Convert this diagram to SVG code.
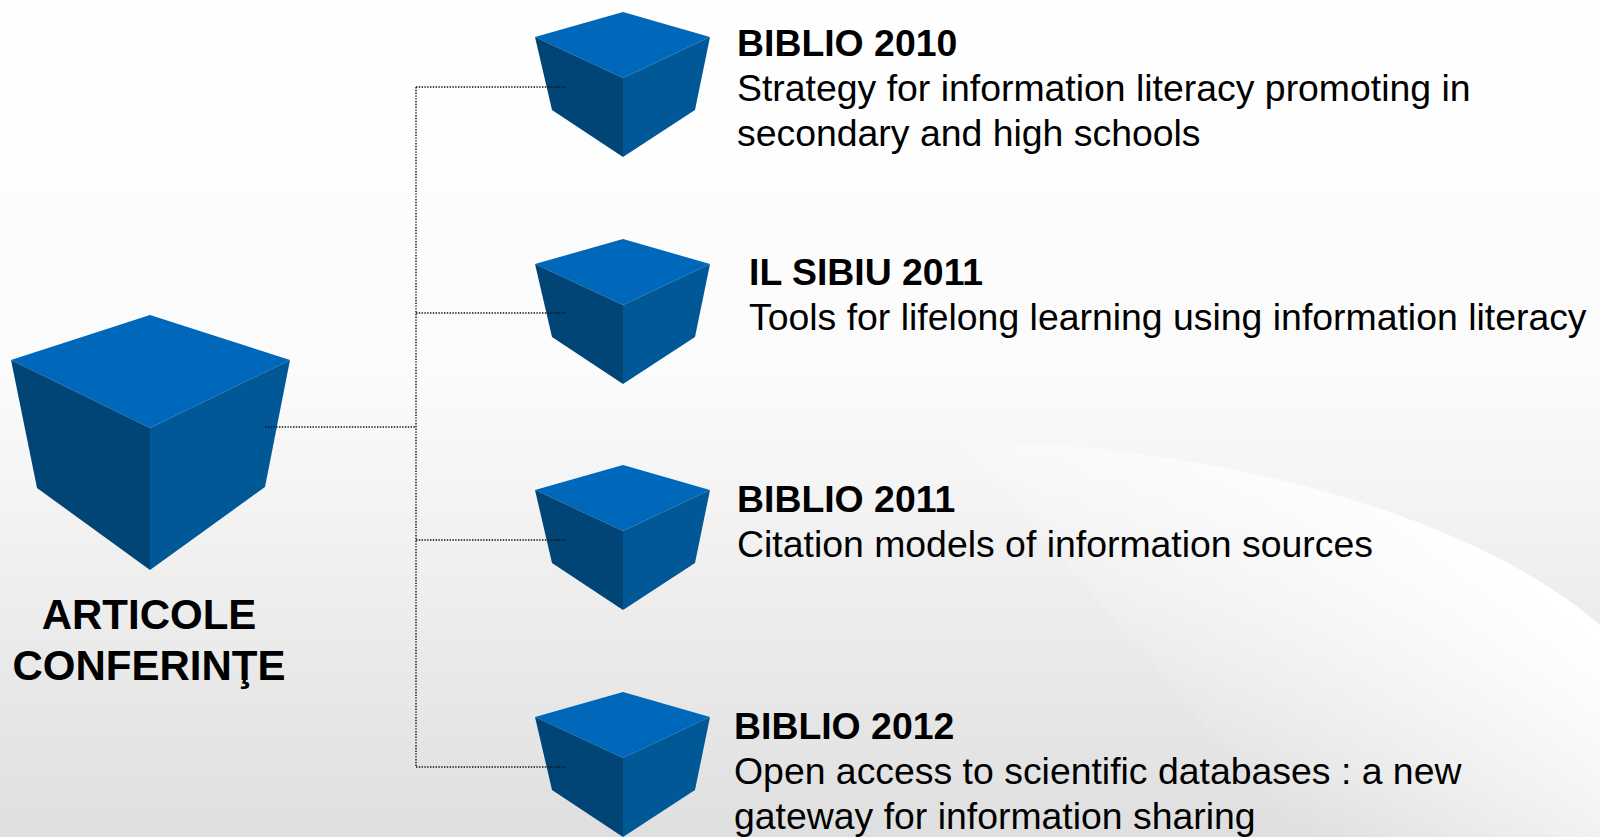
<svg xmlns="http://www.w3.org/2000/svg" width="1600" height="837" viewBox="0 0 1600 837">
<style>
.top{fill:#0467ba}
.lf{fill:#034574}
.rt{fill:#045897}
.t{font-family:"Liberation Sans",Arial,sans-serif;font-size:37.4px;fill:#000}
.b{font-weight:bold}
.big{font-family:"Liberation Sans",Arial,sans-serif;font-size:42px;font-weight:bold;fill:#000;text-anchor:middle}
.conn{fill:none;stroke:#111;stroke-width:1.4;stroke-dasharray:1.4 1.4}
</style>
<defs>
<linearGradient id="bg" x1="0" y1="0" x2="0" y2="1">
<stop offset="0" stop-color="#ffffff"/>
<stop offset="0.45" stop-color="#fbfbfb"/>
<stop offset="1" stop-color="#dfdfdf"/>
</linearGradient>
<linearGradient id="sw" gradientUnits="userSpaceOnUse" x1="1480" y1="540" x2="1250" y2="800">
<stop offset="0" stop-color="#ffffff" stop-opacity="1"/>
<stop offset="1" stop-color="#ffffff" stop-opacity="0"/>
</linearGradient>
<filter id="soft" x="-5%" y="-5%" width="110%" height="110%">
<feGaussianBlur stdDeviation="0.7"/>
</filter>
<g id="cube">
<polygon class="top" points="0,0 -88,25 0,66 87,25"/>
<polygon class="lf" points="-88,25 0,66 0,145 -71,98"/>
<polygon class="rt" points="87,25 0,66 0,145 72,98"/>
</g>
</defs>
<rect width="1600" height="837" fill="url(#bg)"/>
<path d="M960 440 C1230 445 1480 520 1600 625 L1600 837 L1300 837 Z" fill="url(#sw)"/>

<g id="node-root">
<g filter="url(#soft)">
<polygon class="top" points="150,315 11,360 150,428 290,360"/>
<polygon class="lf" points="11,360 150,428 150,570 37,488"/>
<polygon class="rt" points="290,360 150,428 150,570 265,487"/>
</g>
<text class="big" x="149" y="629">ARTICOLE</text>
<text class="big" x="149" y="680">CONFERINŢE</text>
</g>

<g id="node-biblio2010">
<use href="#cube" x="623" y="12" filter="url(#soft)"/>
<text class="t b" x="737" y="56">BIBLIO 2010</text>
<text class="t" x="737" y="101">Strategy for information literacy promoting in</text>
<text class="t" x="737" y="146">secondary and high schools</text>
</g>

<g id="node-ilsibiu2011">
<use href="#cube" x="623" y="239" filter="url(#soft)"/>
<text class="t b" x="749" y="285">IL SIBIU 2011</text>
<text class="t" x="749" y="330">Tools for lifelong learning using information literacy</text>
</g>

<g id="node-biblio2011">
<use href="#cube" x="623" y="465" filter="url(#soft)"/>
<text class="t b" x="737" y="512">BIBLIO 2011</text>
<text class="t" x="737" y="557">Citation models of information sources</text>
</g>

<g id="node-biblio2012">
<use href="#cube" x="623" y="692" filter="url(#soft)"/>
<text class="t b" x="734" y="739">BIBLIO 2012</text>
<text class="t" x="734" y="784">Open access to scientific databases : a new</text>
<text class="t" x="734" y="829">gateway for information sharing</text>
</g>

<g id="connectors">
<path class="conn" d="M265 427 H416"/>
<path class="conn" d="M416 87 V767"/>
<path class="conn" d="M416 87 H566"/>
<path class="conn" d="M416 313 H566"/>
<path class="conn" d="M416 540 H566"/>
<path class="conn" d="M416 767 H566"/>
</g>
</svg>
